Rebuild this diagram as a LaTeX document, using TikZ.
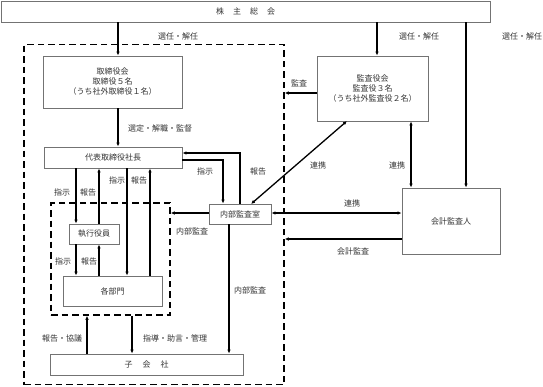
\documentclass[tikz,border=0pt]{standalone}
\usepackage{fontspec}
\newfontfamily\jp{Noto Sans CJK JP}
\usetikzlibrary{arrows.meta}
\begin{document}
\begin{tikzpicture}[x=1pt,y=-1pt,
  font=\jp\fontsize{8}{10}\selectfont,
  box/.style={draw=black!55, line width=0.9pt, fill=white, inner sep=0pt, text=black!80, align=center},
  arr/.style={-{Latex[length=4pt,width=3.5pt]}, line width=1.3pt},
  darr/.style={{Latex[length=4pt,width=3.5pt]}-{Latex[length=4pt,width=3.5pt]}, line width=1.3pt},
  grp/.style={draw, dash pattern=on 6.5pt off 4pt, line width=1.5pt, inner sep=0pt},
  lbl/.style={text=black!80, inner sep=1pt}]
\useasboundingbox (0,0) rectangle (543,386);

% groups
\node[grp, minimum width=260pt, minimum height=340pt] (outer) at (154,214.5) {};
\node[grp, minimum width=119pt, minimum height=112pt] (inner) at (110.5,259) {};

% boxes
\node[box, minimum width=489pt, minimum height=21pt] (soukai) at (245.5,11.5) {株\hspace{9pt}主\hspace{9pt}総\hspace{9pt}会};
\node[box, minimum width=139pt, minimum height=52pt] (board) at (112.5,82) {取締役会\\取締役５名\\（うち社外取締役１名）};
\node[box, minimum width=111pt, minimum height=65pt] (kansa) at (372.5,88.5) {監査役会\\監査役３名\\（うち社外監査役２名）};
\node[box, minimum width=138pt, minimum height=21pt] (ceo) at (113,157.5) {代表取締役社長};
\node[box, minimum width=62pt, minimum height=20pt] (naibu) at (240,214) {内部監査室};
\node[box, minimum width=98pt, minimum height=66pt] (kaikei) at (451,221) {会計監査人};
\node[box, minimum width=50pt, minimum height=20pt] (shikkou) at (94,234) {執行役員};
\node[box, minimum width=99pt, minimum height=30pt] (bumon) at (112.5,291) {各部門};
\node[box, minimum width=193pt, minimum height=21pt] (kogaisha) at (146.5,364.5) {子\hspace{10pt}会\hspace{10pt}社};

% guide coordinates
\coordinate (x118) at (118,0);
\coordinate (x377) at (377,0);
\coordinate (x466) at (466,0);
\coordinate (x411) at (411,0);
\coordinate (x223) at (223,0);
\coordinate (x240) at (240,0);
\coordinate (x229) at (229,0);
\coordinate (x76) at (76,0);
\coordinate (x99) at (99,0);
\coordinate (x127) at (127,0);
\coordinate (x150) at (150,0);
\coordinate (x87) at (87,0);
\coordinate (x132) at (132,0);
\coordinate (y93) at (0,93);
\coordinate (y213) at (0,213);
\coordinate (y239) at (0,239);
\coordinate (y160) at (0,160);
\coordinate (y153) at (0,153);
\coordinate (ka) at (347,121);
\coordinate (nb) at (251,204);

% connectors
\draw[arr] (x118 |- soukai.south) -- (x118 |- board.north);
\draw[arr] (x377 |- soukai.south) -- (x377 |- kansa.north);
\draw[arr] (x466 |- soukai.south) -- (x466 |- kaikei.north);
\draw[arr] (x118 |- board.south) -- (x118 |- ceo.north);
\draw[arr] (kansa.west |- y93) -- (outer.east |- y93);
\draw[darr] (ka) -- (nb);
\draw[darr] (x411 |- kansa.south) -- (x411 |- kaikei.north);
\draw[darr] (naibu.east |- y213) -- (kaikei.west |- y213);
\draw[arr] (kaikei.west |- y239) -- (outer.east |- y239);
\draw[arr] (ceo.east |- y160) -| (x223 |- naibu.north);
\draw[arr] (x240 |- naibu.north) |- (ceo.east |- y153);
\draw[arr] (naibu.west |- y213) -- (inner.east |- y213);
\draw[arr] (x229 |- naibu.south) -- (x229 |- kogaisha.north);
\draw[arr] (x76 |- ceo.south) -- (x76 |- shikkou.north);
\draw[arr] (x99 |- shikkou.north) -- (x99 |- ceo.south);
\draw[arr] (x127 |- ceo.south) -- (x127 |- bumon.north);
\draw[arr] (x150 |- bumon.north) -- (x150 |- ceo.south);
\draw[arr] (x76 |- shikkou.south) -- (x76 |- bumon.north);
\draw[arr] (x99 |- bumon.north) -- (x99 |- shikkou.south);
\draw[arr] (x87 |- kogaisha.north) -- (x87 |- inner.south);
\draw[arr] (x132 |- inner.south) -- (x132 |- kogaisha.north);

% labels
\node[lbl] (l1) at (178,36) {選任・解任};
\node[lbl] (l2) at (419,36) {選任・解任};
\node[lbl] (l3) at (522,36) {選任・解任};
\node[lbl] (l4) at (160,128) {選定・解職・監督};
\node[lbl] (l5) at (299,83) {監査};
\node[lbl] (l6) at (318,165) {連携};
\node[lbl] (l7) at (397,165) {連携};
\node[lbl] (l8) at (352,203) {連携};
\node[lbl] (l9) at (353,251) {会計監査};
\node[lbl] (l10) at (205,171) {指示};
\node[lbl] (l11) at (258,171) {報告};
\node[lbl] (l12) at (192,231) {内部監査};
\node[lbl] (l13) at (250,290) {内部監査};
\node[lbl] (l14) at (62,192) {指示};
\node[lbl] (l15) at (88,192) {報告};
\node[lbl] (l16) at (117,180) {指示};
\node[lbl] (l17) at (139,180) {報告};
\node[lbl] (l18) at (63,261) {指示};
\node[lbl] (l19) at (89,261) {報告};
\node[lbl] (l20) at (62,338) {報告・協議};
\node[lbl] (l21) at (175,338) {指導・助言・管理};
\end{tikzpicture}
\end{document}
